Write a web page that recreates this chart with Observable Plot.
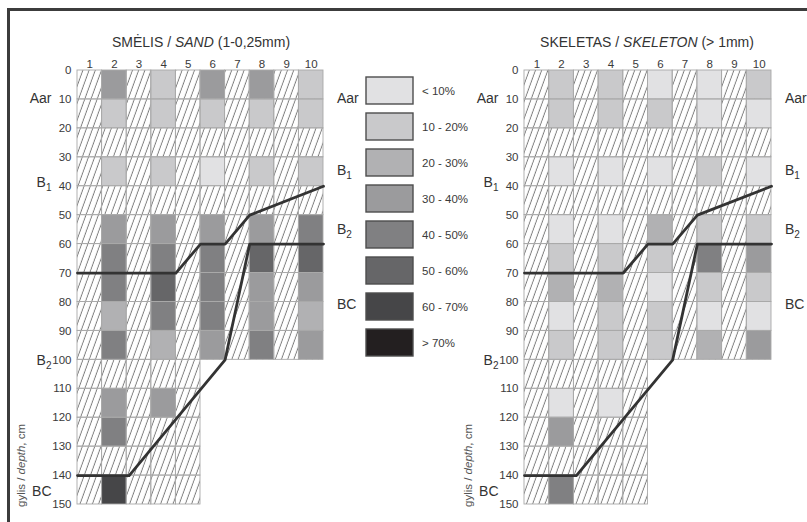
<!DOCTYPE html>
<html>
<head>
<meta charset="utf-8">
<script src="https://cdn.jsdelivr.net/npm/d3@7"></script>
<script src="https://cdn.jsdelivr.net/npm/@observablehq/plot@0.6"></script>
<style>
  html, body { margin: 0; padding: 0; background: #fff; }
  #figure { position: relative; width: 807px; height: 522px; overflow: hidden; background: #fff;
            font-family: "Liberation Sans", Arial, sans-serif; }
  #figure > svg { position: absolute; left: 0; top: 0; }
  #figure svg [aria-label*="axis"] text { font-size: 11.5px; fill: #3a3a3a; }
  .frame { position: absolute; left: 7px; top: 8px; width: 840px; height: 560px;
           border-left: 3px solid #3c3c3c; border-top: 3px solid #3c3c3c; }
</style>
</head>
<body>
<div id="figure">
  <svg width="0" height="0" style="position:absolute">
    <defs>
      <!-- diagonal hatching for layers without a measurement -->
      <pattern id="hatch" patternUnits="userSpaceOnUse" width="6.2" height="8" patternTransform="skewX(-20)">
        <rect width="6.2" height="8" fill="#fff"></rect>
        <line x1="3" y1="-1" x2="3" y2="9" stroke="#505050" stroke-width="0.75"></line>
      </pattern>
    </defs>
  </svg>
  <div class="frame"></div>
</div>
<script>
// Profile grid: ten vertical columns, 10 cm layers
const columns = [1, 2, 3, 4, 5, 6, 7, 8, 9, 10];
const depthTicks = [0, 10, 20, 30, 40, 50, 60, 70, 80, 90, 100, 110, 120, 130, 140, 150];
const layerTops = [0, 10, 20, 30, 40, 50, 60, 70, 80, 90, 100, 110, 120, 130, 140];
const profileBottom = [150, 150, 150, 150, 150, 100, 100, 100, 100, 100];
const sampledColumns = [2, 4, 6, 8, 10];

// Content classes and their grey shades
const classLabels = ["< 10%", "10 - 20%", "20 - 30%", "30 - 40%", "40 - 50%", "50 - 60%", "60 - 70%", "> 70%"];
const classGrays = ["#e1e1e3", "#c9c9cb", "#b1b1b3", "#9b9b9d", "#808082", "#666668", "#464648", "#231f20"];

// Sand (1-0.25 mm): class index per 10 cm layer, null = not measured
const sandCol2  = [3, 1, null, 1, null, 3, 4, 4, 2, 4, null, 3, 4, null, 6];
const sandCol4  = [1, 1, null, 1, null, 3, 4, 5, 4, 2, null, 3, null, null, null];
const sandCol6  = [3, 1, null, 0, null, 3, 4, 4, 4, 3];
const sandCol8  = [3, 1, null, 1, null, 3, 5, 3, 3, 4];
const sandCol10 = [1, 1, null, 1, null, 4, 5, 3, 2, 3];

// Skeleton (> 1 mm)
const skelCol2  = [1, 1, null, 0, null, 0, 1, 2, 0, 1, null, 0, 3, null, 4];
const skelCol4  = [1, 1, null, 0, null, 0, 1, 2, 1, 1, null, 0, null, null, null];
const skelCol6  = [0, 1, null, 0, null, 2, 1, 0, 1, 1];
const skelCol8  = [0, 0, null, 1, null, 1, 4, 1, 0, 2];
const skelCol10 = [1, 0, null, 0, null, 1, 3, 1, 0, 3];

// Horizon boundaries (x in column units, depth in cm)
const upperBoundaryX = [0, 4, 5, 6, 7, 10];
const upperBoundaryDepth = [70, 70, 60, 60, 50, 40];
const lowerBoundaryX = [10, 7, 6, 2.1, 0];
const lowerBoundaryDepth = [60, 60, 100, 140, 140];

const fontFamily = '"Liberation Sans", Arial, sans-serif';
const W = 807, H = 522;

function panel(values, left, right) {
  const cells = [];
  for (const col of columns)
    for (const top of layerTops)
      if (top < profileBottom[col - 1]) cells.push({col, top});
  const samples = [];
  sampledColumns.forEach((col, i) => values[i].forEach((cls, j) => {
    if (cls != null) samples.push({col, top: layerTops[j], cls: classLabels[cls]});
  }));
  const upper = upperBoundaryX.map((x, i) => ({x, depth: upperBoundaryDepth[i]}));
  const lower = lowerBoundaryX.map((x, i) => ({x, depth: lowerBoundaryDepth[i]}));
  const cellPos = {x1: d => d.col - 1, x2: d => d.col, y1: "top", y2: d => d.top + 10};
  return Plot.plot({
    width: W, height: H,
    marginLeft: left, marginRight: W - right, marginTop: 70, marginBottom: 18,
    style: {fontFamily, fontSize: "11.5px", color: "#3a3a3a", background: "transparent", overflow: "visible"},
    x: {domain: [0, 10], axis: "top", ticks: columns.map(c => c - 0.5),
        tickFormat: d => String(Math.round(d + 0.5)), tickSize: 0, tickPadding: 3, label: null},
    y: {domain: [0, 150], reverse: true, axis: "left", ticks: depthTicks,
        tickSize: 0, tickPadding: 6, label: null},
    color: {type: "ordinal", domain: classLabels, range: classGrays},
    marks: [
      Plot.rect(cells, {...cellPos, fill: "url(#hatch)"}),
      Plot.rect(samples, {...cellPos, fill: "cls"}),
      Plot.rect(cells, {...cellPos, fill: "none", stroke: "#a9a9a9", strokeWidth: 0.9}),
      Plot.line(upper, {x: "x", y: "depth", stroke: "#333", strokeWidth: 2.8, strokeLinejoin: "round"}),
      Plot.line(lower, {x: "x", y: "depth", stroke: "#333", strokeWidth: 2.8, strokeLinejoin: "round"})
    ]
  });
}

const fig = document.getElementById("figure");
fig.append(panel([sandCol2, sandCol4, sandCol6, sandCol8, sandCol10], 77, 323));
fig.append(panel([skelCol2, skelCol4, skelCol6, skelCol8, skelCol10], 524, 771));

// Shared legend of content classes
fig.append(Plot.plot({
  width: W, height: H, margin: 0,
  style: {fontFamily, fontSize: "11.5px", color: "#3a3a3a", background: "transparent", overflow: "visible"},
  x: {type: "band", domain: ["swatch"], range: [366, 413], padding: 0, axis: null},
  y: {type: "band", domain: classLabels, range: [64.96, 367.96], padding: 0.246, axis: null},
  color: {type: "ordinal", domain: classLabels, range: classGrays},
  marks: [
    Plot.cell(classLabels, {x: () => "swatch", y: d => d, fill: d => d, stroke: "#4d4d4d", strokeWidth: 1.4}),
    Plot.text(classLabels, {x: () => "swatch", y: d => d, text: d => d, dx: 32, textAnchor: "start",
                            fontSize: 11.5, fill: "#3a3a3a"})
  ]
}));

// Titles, horizon names and depth caption
const overlay = d3.select(fig).append("svg")
  .attr("width", W).attr("height", H)
  .style("font-family", fontFamily).attr("fill", "#333");

const titles = [
  {x: 201, parts: [["SMĖLIS / ", false], ["SAND", true], [" (1-0,25mm)", false]]},
  {x: 647, parts: [["SKELETAS / ", false], ["SKELETON", true], [" (> 1mm)", false]]}
];
for (const t of titles) {
  const txt = overlay.append("text").attr("x", t.x).attr("y", 47)
    .attr("text-anchor", "middle").attr("font-size", 14);
  for (const [s, it] of t.parts) txt.append("tspan").attr("font-style", it ? "italic" : "normal").text(s);
}

const horizons = [["Aar", ""], ["B", "1"], ["B", "2"], ["BC", ""]];
const outerBaselines = [103, 187, 365, 496];
const innerBaselines = [103, 175, 234, 309];
function horizonLabel(x, y, anchor, [base, sub]) {
  const txt = overlay.append("text").attr("x", x).attr("y", y)
    .attr("text-anchor", anchor).attr("font-size", 14);
  txt.append("tspan").text(base);
  if (sub) txt.append("tspan").attr("font-size", 10).attr("dy", 4).text(sub);
}
horizons.forEach((h, i) => {
  horizonLabel(51.5, outerBaselines[i], "end", h);
  horizonLabel(498.5, outerBaselines[i], "end", h);
  horizonLabel(337, innerBaselines[i], "start", h);
  horizonLabel(785, innerBaselines[i], "start", h);
});

for (const x of [25, 472]) {
  const cap = overlay.append("text").attr("transform", `translate(${x},507) rotate(-90)`)
    .attr("font-size", 11.5).attr("fill", "#555");
  cap.append("tspan").text("gylis / ");
  cap.append("tspan").attr("font-style", "italic").text("depth");
  cap.append("tspan").text(", cm");
}
</script>
</body>
</html>
